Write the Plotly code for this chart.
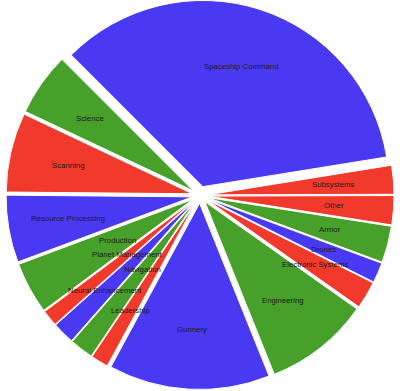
import math
import plotly.graph_objects as go

# ---- data ----
categories = ["Spaceship Command", "Subsystems", "Other", "Armor", "Drones",
              "Electronic Systems", "Engineering", "Gunnery", "Leadership",
              "Navigation", "Neural Enhancement", "Planet Management",
              "Production", "Resource Processing", "Scanning", "Science"]
values = [125.9, 9.0, 9.1, 11.4, 6.3, 8.6, 32.9, 50.4, 5.5, 7.4, 6.9, 5.1,
          16.2, 21.0, 24.8, 19.7]

BLUE, RED, GREEN = "#4a39f2", "#f23a2c", "#46a02a"
slice_colors = [BLUE, RED, RED, GREEN, BLUE, RED, GREEN, BLUE, RED, GREEN,
                BLUE, RED, GREEN, BLUE, RED, GREEN]

# labels pushed toward the centre to avoid overlap (as in the original chart)
inner_labels = {"Production", "Planet Management", "Navigation"}

W, H = 400, 391
ROTATION = -45
BASE_PULL = 0.042
extra_pull = {"Spaceship Command": 0.05}
pulls = [extra_pull.get(c, BASE_PULL) for c in categories]

fig = go.Figure(go.Pie(
    labels=categories,
    values=values,
    sort=False,
    direction="clockwise",
    rotation=ROTATION,
    pull=pulls,
    marker=dict(colors=slice_colors, line=dict(color="white", width=1)),
    textinfo="none",
    hoverinfo="label+value",
    showlegend=False,
    domain=dict(x=[0, 1], y=[0, 1]),
))

# label placement following the pie geometry plotly uses
max_pull = max(pulls)
r = min(W, H) / (2 + 2 * max_pull)
total = sum(values)
cum = 0.0
annotations = []
for cat, v, p in zip(categories, values, pulls):
    mid = math.radians(ROTATION + 360.0 * (cum + v / 2.0) / total)
    cum += v
    k = 0.46 if cat in inner_labels else 0.68
    dist = (k + p) * r
    dx = dist * math.sin(mid)
    dy = dist * math.cos(mid)
    annotations.append(dict(
        x=0.5 + dx / W, y=0.5 + dy / H, xref="paper", yref="paper",
        text=cat, showarrow=False, xanchor="center", yanchor="middle",
        font=dict(family="Liberation Sans, Arial, sans-serif",
                  size=7.8, color="#1a1a1a"),
    ))

fig.update_layout(
    width=W, height=H,
    margin=dict(l=0, r=0, t=0, b=0),
    paper_bgcolor="white",
    plot_bgcolor="white",
    annotations=annotations,
)

fig.write_html("out.html",
               config={"displayModeBar": False},
               post_script="document.body.style.margin='0';"
                           "document.body.style.padding='0';")
